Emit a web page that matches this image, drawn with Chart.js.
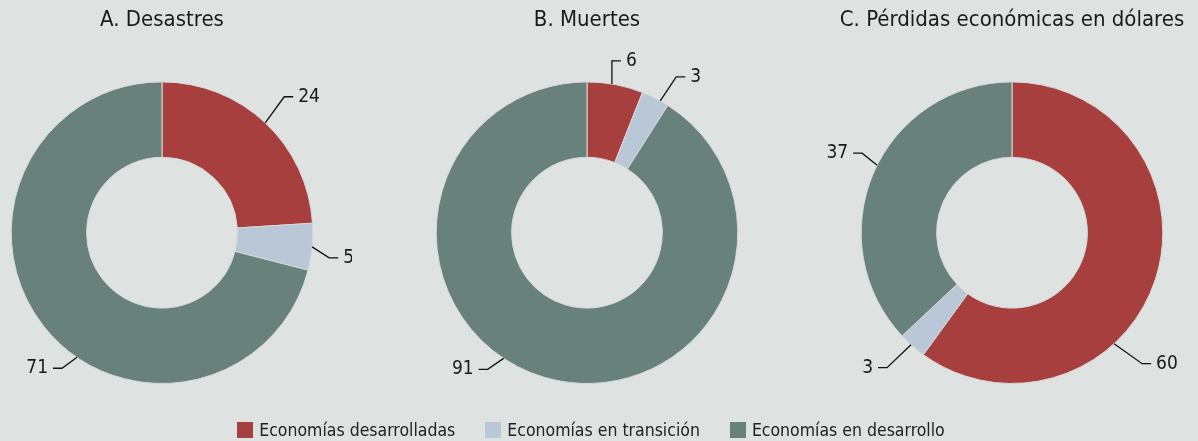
<!DOCTYPE html>
<html lang="es">
<head>
<meta charset="UTF-8">
<title>Desastres, muertes y pérdidas</title>
<style>
    body {
        margin: 0;
        background-color: #dee2e0;
        font-family: "Liberation Sans Narrow", "DejaVu Sans Condensed", Roboto, sans-serif;
    }
    #wrap {
        position: relative;
        width: 1198px;
        height: 441px;
        overflow: hidden;
    }
    .pie {
        position: absolute;
        top: 0;
        width: 380px;
        height: 441px;
    }
    #legend {
        position: absolute;
        left: 0;
        width: 1182px;
        top: 420px;
        display: flex;
        justify-content: center;
        gap: 30px;
        font-size: 17.5px;
        color: #222;
    }
    #legend span.item {
        display: flex;
        align-items: center;
    }
    #legend i {
        display: inline-block;
        width: 16px;
        height: 16px;
        margin-right: 6px;
    }
</style>
</head>
<body>
<div id="wrap">
    <div class="pie" style="left:-28px"><canvas id="c0"></canvas></div>
    <div class="pie" style="left:397px"><canvas id="c1"></canvas></div>
    <div class="pie" style="left:822px"><canvas id="c2"></canvas></div>
    <div id="legend"></div>
</div>

<script src="https://cdn.jsdelivr.net/npm/chart.js"></script>
<script>
    // datos (porcentajes)
    const categories = ['Economías desarrolladas', 'Economías en transición', 'Economías en desarrollo'];
    const titles = ['A. Desastres', 'B. Muertes', 'C. Pérdidas económicas en dólares'];
    const desastres = [24, 5, 71];
    const muertes = [6, 3, 91];
    const perdidas = [60, 3, 37];

    const colors = ['#a83f3f', '#b9c7d6', '#68827b'];
    const fontFamily = '"Liberation Sans Narrow", "DejaVu Sans Condensed", Roboto, sans-serif';

    // where each callout touches its slice (0..1 along the arc), elbow offset and side
    const callouts = [
        { at: [0.5, 0.5, 0.43], elbow: [[19, -26], [17, 11], [-15, 11]], side: [1, 1, -1] },
        { at: [0.44, 0.69, 0.553], elbow: [[0, -23], [16, -24], [-16, 11]], side: [1, 1, -1] },
        { at: [0.636, 0.56, 0.524], elbow: [[28, 20], [-24, 23], [-15, -12]], side: [1, -1, -1] }
    ];

    const calloutPlugin = {
        id: 'callouts',
        afterDatasetsDraw(chart, args, opts) {
            const ctx = chart.ctx;
            const meta = chart.getDatasetMeta(0);
            const values = chart.data.datasets[0].data;
            ctx.save();
            ctx.strokeStyle = '#111';
            ctx.lineWidth = 1.3;
            ctx.fillStyle = '#1a1a1a';
            ctx.font = '19px ' + fontFamily;
            ctx.textBaseline = 'middle';
            meta.data.forEach((arc, i) => {
                const p = arc.getProps(['x', 'y', 'startAngle', 'endAngle', 'outerRadius'], true);
                const a = p.startAngle + (p.endAngle - p.startAngle) * opts.at[i];
                const px = p.x + Math.cos(a) * p.outerRadius;
                const py = p.y + Math.sin(a) * p.outerRadius;
                const ex = px + opts.elbow[i][0];
                const ey = py + opts.elbow[i][1];
                const dir = opts.side[i];
                const hx = ex + dir * 9;
                ctx.beginPath();
                ctx.moveTo(px, py);
                ctx.lineTo(ex, ey);
                ctx.lineTo(hx, ey);
                ctx.stroke();
                ctx.textAlign = dir > 0 ? 'left' : 'right';
                ctx.fillText(String(values[i]), hx + dir * 5, ey);
            });
            ctx.restore();
        }
    };

    Chart.defaults.font.family = fontFamily;

    [desastres, muertes, perdidas].forEach((vals, k) => {
        new Chart(document.getElementById('c' + k), {
            type: 'doughnut',
            data: {
                labels: categories,
                datasets: [{
                    data: vals,
                    backgroundColor: colors,
                    borderColor: '#d3dad7',
                    borderWidth: 1,
                    hoverOffset: 0
                }]
            },
            options: {
                responsive: true,
                maintainAspectRatio: false,
                animation: false,
                cutout: '50%',
                layout: { padding: { top: 0, bottom: 57, left: 0, right: 0 } },
                plugins: {
                    legend: { display: false },
                    tooltip: { enabled: false },
                    title: {
                        display: true,
                        text: titles[k],
                        color: '#1a1a1a',
                        font: { size: 22, weight: 'normal' },
                        padding: { top: 7, bottom: 48 }
                    },
                    callouts: callouts[k]
                }
            },
            plugins: [calloutPlugin]
        });
    });

    // leyenda común
    const legend = document.getElementById('legend');
    categories.forEach((name, i) => {
        const item = document.createElement('span');
        item.className = 'item';
        item.innerHTML = '<i style="background:' + colors[i] + '"></i>' + name;
        legend.appendChild(item);
    });
</script>
</body>
</html>
